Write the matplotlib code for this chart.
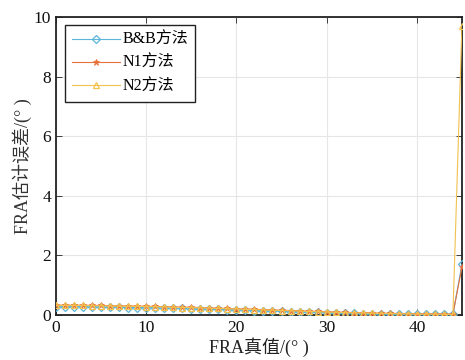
import matplotlib
matplotlib.use("Agg")
import matplotlib.pyplot as plt

plt.rcParams['font.family'] = ['Liberation Serif', 'Noto Sans CJK SC']

x_true = list(range(0, 46))
bb = [0.28, 0.28, 0.28, 0.28, 0.27, 0.27, 0.26, 0.26, 0.25, 0.25,
      0.25, 0.24, 0.23, 0.23, 0.22, 0.21, 0.20, 0.20, 0.19, 0.18,
      0.17, 0.16, 0.15, 0.14, 0.13, 0.12, 0.11, 0.11, 0.10, 0.09,
      0.08, 0.07, 0.06, 0.06, 0.05, 0.04, 0.04, 0.03, 0.03, 0.03,
      0.02, 0.02, 0.02, 0.02, 0.02, 1.70]
n1 = [0.33, 0.33, 0.33, 0.33, 0.32, 0.32, 0.31, 0.31, 0.30, 0.30,
      0.29, 0.29, 0.28, 0.27, 0.26, 0.26, 0.25, 0.24, 0.23, 0.22,
      0.21, 0.20, 0.19, 0.18, 0.17, 0.16, 0.15, 0.14, 0.13, 0.12,
      0.11, 0.10, 0.09, 0.08, 0.08, 0.07, 0.06, 0.06, 0.05, 0.05,
      0.04, 0.04, 0.04, 0.03, 0.03, 1.60]
n2 = [0.32, 0.32, 0.32, 0.32, 0.31, 0.31, 0.30, 0.30, 0.29, 0.29,
      0.28, 0.28, 0.27, 0.26, 0.25, 0.25, 0.24, 0.23, 0.22, 0.21,
      0.20, 0.19, 0.18, 0.17, 0.16, 0.15, 0.14, 0.13, 0.12, 0.11,
      0.10, 0.09, 0.08, 0.07, 0.07, 0.06, 0.05, 0.05, 0.04, 0.04,
      0.03, 0.03, 0.03, 0.02, 0.02, 9.70]
labels = ['B&B方法', 'N1方法', 'N2方法']
xticks = [0, 10, 20, 30, 40]
yticks = [0, 2, 4, 6, 8, 10]

fig = plt.figure(figsize=(4.65, 3.6), dpi=100)
ax = fig.add_axes([0.1204, 0.125, 0.873, 0.828])

c_bb = '#5BB5DA'
c_n1 = '#E8703A'
c_n2 = '#F2C14E'
ax.plot(x_true, bb, color=c_bb, marker='D', markersize=4.5, markerfacecolor='none',
        markeredgewidth=0.9, linewidth=0.8, label=labels[0], zorder=3)
ax.plot(x_true, n1, color=c_n1, marker='*', markersize=4.5, markeredgewidth=0.6,
        linewidth=0.8, label=labels[1], zorder=4)
ax.plot(x_true, n2, color=c_n2, marker='^', markersize=5, markerfacecolor='none',
        markeredgewidth=0.9, linewidth=0.8, label=labels[2], zorder=5)

ax.set_xlim(0, 45)
ax.set_ylim(0, 10)
ax.set_xticks(xticks)
ax.set_yticks(yticks)
ax.grid(True, color='#e6e6e6', linewidth=0.8)
ax.set_axisbelow(True)
ax.tick_params(direction='in', top=True, right=True, labelsize=12.5, length=4, width=0.6,
               colors='#222222', labelcolor='#111111')
for s in ax.spines.values():
    s.set_linewidth(1.3)
    s.set_color('#222222')

ax.set_xlabel('FRA真值/(° )', fontsize=13, labelpad=1, color='#222222')
ax.set_ylabel('FRA估计误差/(° )', fontsize=13, labelpad=1, color='#333333')

leg = ax.legend(loc='upper left', bbox_to_anchor=(0.022, 0.973), borderaxespad=0,
                fontsize=11.5, fancybox=False, edgecolor='#222222', framealpha=1,
                handlelength=3.0, handletextpad=0.15, borderpad=0.45, labelspacing=0.45)
leg.get_frame().set_linewidth(1.0)

fig.savefig('out.png', dpi=100)
